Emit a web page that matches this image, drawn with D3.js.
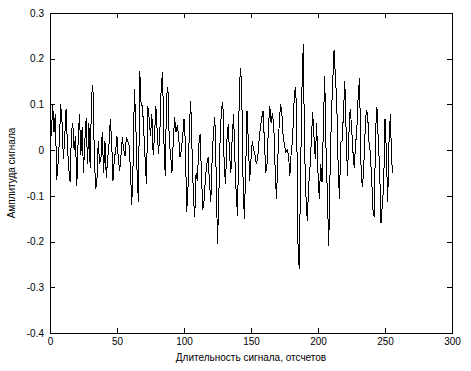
<html>
<head>
    <meta charset="utf-8">
    <script src="https://cdn.jsdelivr.net/npm/d3@7"></script>
    <style>
        body { margin: 0; background: white; font-family: "Liberation Sans", Arial, sans-serif; }
        svg { display: block; }
        .tick text { font-size: 10px; fill: black; }
    </style>
</head>
<body>
<svg id="chart" width="471" height="371"></svg>
<script>
    // signal samples (1..256)
    const signal = [
        0.03, 0.1, 0.04, 0.08, -0.065, -0.03, 0.02, 0.1, 0.06, -0.02,
        0.03, 0.09, 0.01, -0.04, -0.07, 0.04, 0.06, 0.0, 0.03, -0.078,
        0.02, 0.08, -0.01, 0.05, -0.05, 0.02, 0.07, -0.03, 0.06, -0.04,
        0.12, 0.143, 0.0, -0.085, -0.07, 0.02, -0.03, -0.02, 0.04, -0.05,
        0.02, -0.06, -0.02, 0.01, 0.068, 0.02, -0.067, -0.02, 0.0, 0.03,
        -0.02, -0.045, -0.01, 0.028, 0.0, -0.012, 0.028, 0.02, 0.01, -0.04,
        -0.12, -0.03, 0.134, 0.06, -0.05, -0.114, 0.172, 0.1, 0.097, 0.04,
        -0.02, -0.074, 0.097, 0.07, 0.03, 0.08, -0.01, 0.03, 0.097, 0.04,
        -0.008, 0.04, 0.14, 0.17, 0.02, -0.056, 0.12, 0.137, 0.02, -0.01,
        -0.05, 0.02, 0.072, 0.04, 0.054, 0.03, -0.016, 0.0, 0.03, 0.068,
        0.02, -0.136, -0.08, 0.05, 0.108, 0.0, -0.1, -0.147, -0.05, -0.067,
        0.01, 0.035, -0.05, -0.13, -0.11, -0.06, -0.03, -0.016, -0.07, -0.114,
        -0.02, 0.04, 0.072, -0.05, -0.205, -0.1, 0.03, 0.09, 0.105, -0.034,
        -0.074, 0.02, 0.057, -0.01, -0.049, 0.03, 0.079, -0.02, -0.1, -0.143,
        0.08, 0.179, 0.148, -0.056, -0.15, -0.05, 0.086, 0.02, -0.067, -0.02,
        0.02, 0.0, -0.01, -0.03, -0.016, 0.02, 0.05, 0.07, 0.086, 0.02,
        -0.049, -0.03, 0.05, 0.096, 0.06, 0.08, 0.054, -0.04, -0.107, -0.02,
        0.054, 0.1, 0.083, 0.03, 0.01, -0.005, 0.0, -0.01, -0.056, -0.005,
        0.02, 0.1, 0.137, 0.097, -0.2, -0.26, -0.05, 0.13, 0.232, 0.0,
        -0.1, -0.154, -0.08, -0.04, 0.02, 0.083, 0.03, -0.02, 0.06, -0.05,
        -0.107, -0.03, -0.07, 0.05, 0.163, 0.0, -0.1, -0.21, -0.05, 0.075,
        0.15, 0.22, 0.16, 0.105, -0.03, -0.107, 0.017, 0.02, 0.08, 0.152,
        0.04, -0.056, 0.03, 0.09, 0.054, 0.0, -0.038, 0.01, 0.046, 0.12,
        0.157, -0.027, -0.081, -0.05, 0.03, 0.086, 0.08, 0.02, -0.005, -0.06,
        -0.13, -0.147, 0.046, 0.094, 0.02, -0.04, -0.16, -0.12, -0.078, 0.068,
        0.0, -0.114, 0.02, 0.079, -0.027, -0.05
    ];
    const xTicks = [0, 50, 100, 150, 200, 250, 300];
    const yTicks = [-0.4, -0.3, -0.2, -0.1, 0, 0.1, 0.2, 0.3];
    const xLabel = "Длительность сигнала, отсчетов";
    const yLabel = "Амплитуда сигнала";

    const mLeft = 50, mRight = 452, mTop = 13, mBottom = 333;
    const svg = d3.select("#chart");

    const x = d3.scaleLinear().domain([0, 300]).range([mLeft, mRight]);
    const y = d3.scaleLinear().domain([-0.4, 0.3]).range([mBottom, mTop]);

    // box
    svg.append("rect")
        .attr("x", mLeft).attr("y", mTop)
        .attr("width", mRight - mLeft).attr("height", mBottom - mTop)
        .attr("fill", "none").attr("stroke", "black")
        .attr("shape-rendering", "crispEdges");

    // axes with inward ticks (matlab style)
    let fmt = d => String(d);
    let gx = svg.append("g").attr("transform", "translate(0," + mBottom + ")")
        .call(d3.axisBottom(x).tickValues(xTicks).tickFormat(fmt).tickSize(-5).tickPadding(5));
    let gy = svg.append("g").attr("transform", "translate(" + mLeft + ",0)")
        .call(d3.axisLeft(y).tickValues(yTicks).tickFormat(fmt).tickSize(-5).tickPadding(6));
    let gx2 = svg.append("g").attr("transform", "translate(0," + mTop + ")")
        .call(d3.axisTop(x).tickValues(xTicks).tickFormat("").tickSize(-5));
    let gy2 = svg.append("g").attr("transform", "translate(" + mRight + ",0)")
        .call(d3.axisRight(y).tickValues(yTicks).tickFormat("").tickSize(-5));
    [gx, gy, gx2, gy2].forEach(g => {
        g.select(".domain").remove();
        g.selectAll("line").attr("stroke", "black").attr("shape-rendering", "crispEdges");
        g.attr("font-family", null).attr("font-size", null);
    });

    // signal line
    let line = d3.line()
        .x((d, i) => x(i + 1))
        .y(d => y(d));
    svg.append("path")
        .datum(signal)
        .attr("d", line)
        .attr("fill", "none")
        .attr("stroke", "black")
        .attr("stroke-width", 1)
        .attr("shape-rendering", "crispEdges");

    // labels
    svg.append("text")
        .attr("x", (mLeft + mRight) / 2).attr("y", 361)
        .attr("text-anchor", "middle")
        .attr("font-size", 10)
        .text(xLabel);
    svg.append("text")
        .attr("transform", "translate(15," + (mTop + mBottom) / 2 + ") rotate(-90)")
        .attr("text-anchor", "middle")
        .attr("font-size", 10)
        .text(yLabel);
</script>
</body>
</html>
